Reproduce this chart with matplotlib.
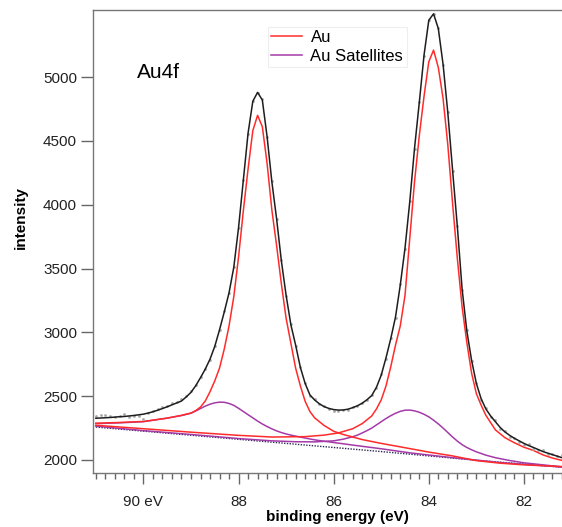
import matplotlib
matplotlib.use("Agg")
import matplotlib.pyplot as plt
from matplotlib.ticker import MultipleLocator, FixedLocator

plt.rcParams['font.family'] = ['Liberation Sans', 'DejaVu Sans']

# raw spectrum (grey dots), binding energy in eV
data_E = [91.0, 90.9, 90.8, 90.7, 90.6, 90.5, 90.4, 90.3, 90.2, 90.1,
          90.0, 89.9, 89.8, 89.7, 89.6, 89.5, 89.4, 89.3, 89.2, 89.1,
          89.0, 88.9, 88.8, 88.7, 88.6, 88.5, 88.4, 88.3, 88.2, 88.1,
          88.0, 87.9, 87.8, 87.7, 87.6, 87.5, 87.4, 87.3, 87.2, 87.1,
          87.0, 86.9, 86.8, 86.7, 86.6, 86.5, 86.4, 86.3, 86.2, 86.1,
          86.0, 85.9, 85.8, 85.7, 85.6, 85.5, 85.4, 85.3, 85.2, 85.1,
          85.0, 84.9, 84.8, 84.7, 84.6, 84.5, 84.4, 84.3, 84.2, 84.1,
          84.0, 83.9, 83.8, 83.7, 83.6, 83.5, 83.4, 83.3, 83.2, 83.1,
          83.0, 82.9, 82.8, 82.7, 82.6, 82.5, 82.4, 82.3, 82.2, 82.1,
          82.0, 81.9, 81.8, 81.7, 81.6, 81.5, 81.4, 81.3, 81.2]
data_I = [2348, 2352, 2355, 2343, 2338, 2342, 2360, 2340, 2346, 2342,
          2322, 2372, 2386, 2400, 2414, 2425, 2445, 2452, 2478, 2500,
          2540, 2585, 2650, 2715, 2785, 2895, 3015, 3165, 3305, 3515,
          3815, 4195, 4555, 4815, 4875, 4825, 4528, 4185, 3885, 3565,
          3285, 3065, 2895, 2725, 2605, 2505, 2475, 2435, 2425, 2398,
          2380, 2385, 2395, 2392, 2415, 2420, 2450, 2468, 2510, 2565,
          2670, 2795, 2955, 3115, 3375, 3655, 4030, 4437, 4805, 5167,
          5450, 5490, 5385, 5095, 4725, 4265, 3835, 3335, 3015, 2775,
          2605, 2470, 2410, 2335, 2310, 2245, 2228, 2180, 2175, 2140,
          2118, 2125, 2090, 2075, 2080, 2045, 2050, 2035, 2040]

# fit envelope
env_E = [91.0, 90.9, 90.8, 90.7, 90.6, 90.5, 90.4, 90.3, 90.2, 90.1,
         90.0, 89.9, 89.8, 89.7, 89.6, 89.5, 89.4, 89.3, 89.2, 89.1,
         89.0, 88.9, 88.8, 88.7, 88.6, 88.5, 88.4, 88.3, 88.2, 88.1,
         88.0, 87.9, 87.8, 87.7, 87.6, 87.5, 87.4, 87.3, 87.2, 87.1,
         87.0, 86.9, 86.8, 86.7, 86.6, 86.5, 86.4, 86.3, 86.2, 86.1,
         86.0, 85.9, 85.8, 85.7, 85.6, 85.5, 85.4, 85.3, 85.2, 85.1,
         85.0, 84.9, 84.8, 84.7, 84.6, 84.5, 84.4, 84.3, 84.2, 84.1,
         84.0, 83.9, 83.8, 83.7, 83.6, 83.5, 83.4, 83.3, 83.2, 83.1,
         83.0, 82.9, 82.8, 82.7, 82.6, 82.5, 82.4, 82.3, 82.2, 82.1,
         82.0, 81.9, 81.8, 81.7, 81.6, 81.5, 81.4, 81.3, 81.2, 81.1]
env_I = [2327, 2329, 2331, 2333, 2336, 2339, 2341, 2345, 2349, 2354,
         2359, 2368, 2378, 2390, 2403, 2417, 2432, 2447, 2462, 2494,
         2530, 2582, 2645, 2712, 2790, 2890, 3020, 3160, 3310, 3510,
         3820, 4190, 4560, 4810, 4880, 4820, 4533, 4180, 3890, 3560,
         3290, 3060, 2900, 2725, 2600, 2510, 2470, 2440, 2418, 2404,
         2395, 2391, 2392, 2398, 2410, 2425, 2445, 2472, 2505, 2570,
         2665, 2800, 2950, 3120, 3370, 3660, 4024, 4442, 4800, 5172,
         5445, 5495, 5380, 5100, 4720, 4270, 3830, 3340, 3010, 2780,
         2600, 2480, 2400, 2345, 2300, 2255, 2220, 2193, 2170, 2150,
         2130, 2113, 2098, 2082, 2066, 2054, 2042, 2030, 2018, 2007]

# Au 4f5/2 and 4f7/2 components
au1_E = [91.0, 90.5, 90.0, 89.5, 89.2, 89.0, 88.9, 88.8, 88.7, 88.6,
         88.5, 88.4, 88.3, 88.2, 88.1, 88.0, 87.9, 87.8, 87.7, 87.6,
         87.5, 87.4, 87.3, 87.2, 87.1, 87.0, 86.9, 86.8, 86.7, 86.6,
         86.5, 86.4, 86.2, 86.0, 85.8, 85.4, 85.0, 84.6, 84.0, 83.5,
         83.0, 82.5, 82.0, 81.1]
au1_I = [2288, 2294, 2302, 2328, 2350, 2368, 2387, 2415, 2462, 2535,
         2620, 2720, 2870, 3050, 3280, 3590, 3950, 4280, 4580, 4700,
         4611, 4324, 3960, 3680, 3380, 3110, 2915, 2720, 2580, 2460,
         2380, 2330, 2270, 2225, 2200, 2160, 2130, 2103, 2062, 2032,
         1995, 1975, 1962, 1947]
au2_E = [91.0, 90.0, 89.0, 88.0, 87.3, 86.6, 86.2, 85.9, 85.6, 85.4,
         85.2, 85.1, 85.0, 84.9, 84.8, 84.7, 84.6, 84.5, 84.4, 84.3,
         84.2, 84.1, 84.0, 83.9, 83.8, 83.7, 83.6, 83.5, 83.4, 83.3,
         83.2, 83.1, 83.0, 82.9, 82.8, 82.6, 82.4, 82.2, 82.0, 81.8,
         81.6, 81.4, 81.1]
au2_I = [2272, 2245, 2218, 2193, 2180, 2183, 2195, 2212, 2245, 2285,
         2345, 2400, 2471, 2580, 2730, 2900, 3050, 3290, 3737, 4180,
         4540, 4850, 5120, 5211, 5075, 4833, 4468, 4010, 3580, 3200,
         2920, 2680, 2520, 2430, 2350, 2236, 2175, 2135, 2100, 2075,
         2040, 2015, 1988]

# satellites
sat1_E = [91.0, 90.5, 90.0, 89.5, 89.2, 89.0, 88.9, 88.8, 88.7, 88.6,
          88.5, 88.4, 88.3, 88.2, 88.1, 88.0, 87.9, 87.8, 87.7, 87.6,
          87.5, 87.4, 87.3, 87.2, 87.1, 87.0, 86.9, 86.8, 86.6, 86.4,
          86.2, 86.0, 85.5, 85.0, 84.4, 83.5, 82.5, 81.1]
sat1_I = [2285, 2291, 2300, 2328, 2348, 2366, 2384, 2403, 2422, 2437,
          2448, 2453, 2452, 2443, 2428, 2405, 2380, 2355, 2330, 2305,
          2282, 2262, 2244, 2228, 2215, 2204, 2195, 2187, 2172, 2158,
          2147, 2137, 2112, 2088, 2056, 2018, 1980, 1942]
sat2_E = [91.0, 90.0, 89.0, 88.0, 87.3, 86.8, 86.4, 86.0, 85.8, 85.6,
          85.5, 85.4, 85.3, 85.2, 85.1, 85.0, 84.9, 84.8, 84.7, 84.6,
          84.5, 84.4, 84.3, 84.2, 84.1, 84.0, 83.9, 83.8, 83.7, 83.6,
          83.5, 83.4, 83.3, 83.2, 83.1, 83.0, 82.8, 82.6, 82.3, 82.0,
          81.5, 81.1]
sat2_I = [2265, 2230, 2200, 2168, 2150, 2143, 2142, 2150, 2163, 2182,
          2195, 2212, 2230, 2250, 2275, 2300, 2325, 2347, 2366, 2381,
          2390, 2391, 2385, 2374, 2358, 2338, 2312, 2283, 2250, 2215,
          2180, 2148, 2120, 2098, 2080, 2064, 2038, 2018, 1996, 1978,
          1958, 1942]

# background
bg_E = [91.0, 90.0, 89.0, 88.0, 87.0, 86.0, 85.0, 84.0, 83.0, 82.0, 81.1]
bg_I = [2258, 2226, 2194, 2162, 2130, 2098, 2066, 2032, 1998, 1968, 1941]

xticks = [90, 88, 86, 84, 82]
xtick_labels = ['90 eV', '88', '86', '84', '82']
yticks = [2000, 2500, 3000, 3500, 4000, 4500, 5000]

red = '#ff2b2b'
purple = '#a43aa8'

fig = plt.figure(figsize=(5.62, 5.27), dpi=100)
ax = fig.add_axes([0.1655, 0.1034, 0.8683, 0.8776])

ax.plot(bg_E, bg_I, color='#2b2b55', lw=1.0, ls=(0, (1, 1)), zorder=2)
ax.plot(sat2_E, sat2_I, color=purple, lw=1.1, zorder=3)
ax.plot(sat1_E, sat1_I, color=purple, lw=1.1, zorder=3)
ax.plot(au2_E, au2_I, color=red, lw=1.1, zorder=4)
ax.plot(au1_E, au1_I, color=red, lw=1.1, zorder=4)
ax.plot(data_E, data_I, ls='none', marker='o', ms=2, color='#a8a8a8',
        mec='none', zorder=5)
ax.plot(env_E, env_I, color='#1e1e1e', lw=1.1, zorder=6)

ax.set_xlim(91.06, 80.80)
ax.set_ylim(1902, 5525)

ax.xaxis.set_major_locator(FixedLocator(xticks))
ax.set_xticklabels(xtick_labels)
ax.xaxis.set_minor_locator(MultipleLocator(0.2))
ax.yaxis.set_major_locator(FixedLocator(yticks))

ax.tick_params(axis='x', which='major', length=8, width=1, color='#666666',
               labelsize=11, pad=8, labelcolor='#222222')
ax.tick_params(axis='x', which='minor', length=4.5, width=1, color='#666666')
ax.tick_params(axis='y', which='major', length=8.5, width=1, color='#666666',
               labelsize=11, pad=3, labelcolor='#222222')

for side in ['left', 'top', 'bottom']:
    ax.spines[side].set_color('#777777')
    ax.spines[side].set_linewidth(1)
ax.spines['right'].set_visible(False)

ax.set_xlabel('binding energy (eV)', fontsize=11, fontweight='bold')
ax.xaxis.set_label_coords(0.5, -0.082)
ax.set_ylabel('intensity', fontsize=11, fontweight='bold')
ax.yaxis.set_label_coords(-0.134, 0.552)

fig.text(137 / 562, 1 - 72 / 527, 'Au4f', fontsize=15, ha='left', va='center')

h1, = ax.plot([], [], color=red, lw=1.1)
h2, = ax.plot([], [], color=purple, lw=1.1)
leg = fig.legend([h1, h2], ['Au', 'Au Satellites'], loc='upper left',
                 bbox_to_anchor=(268 / 562, 1 - 27 / 527), fontsize=12,
                 frameon=True, fancybox=False, framealpha=1, edgecolor='#eeeeee',
                 handlelength=1.85, handletextpad=0.5, labelspacing=0.2,
                 borderpad=0.2, borderaxespad=0)
leg.get_frame().set_linewidth(0.8)

fig.savefig('out.png', dpi=100)
